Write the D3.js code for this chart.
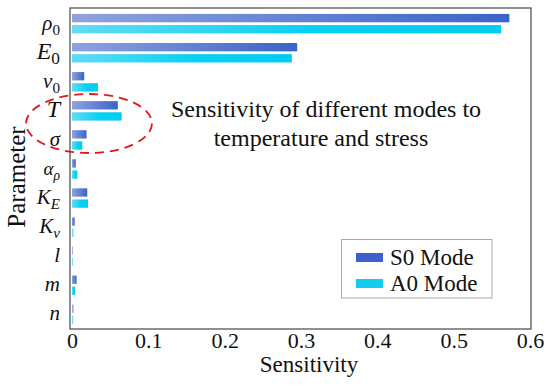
<!DOCTYPE html>
<html><head><meta charset="utf-8">
<script src="https://cdn.jsdelivr.net/npm/d3@7"></script>
<style>body{margin:0;background:#fff}svg{display:block}text{font-family:"Liberation Serif","Times New Roman",serif}</style>
</head><body>
<svg id="c" width="550" height="388"></svg>
<script>
const categories = ["rho0","E0","v0","T","sigma","alpha","KE","Kv","l","m","n"];
const s0Values = [0.573,0.295,0.016,0.060,0.019,0.005,0.020,0.0035,0.001,0.006,0.002];
const a0Values = [0.562,0.288,0.034,0.065,0.0135,0.007,0.021,0.002,0.001,0.004,0.0015];
const xTicks = [0,0.1,0.2,0.3,0.4,0.5,0.6];
const seriesNames = ["S0 Mode","A0 Mode"];

const svg = d3.select("#c");
const serif = '"Liberation Serif","Times New Roman",serif';
const fL=70, fR=531, fT=8, fB=329;
const x = d3.scaleLinear().domain([0,0.6]).range([72,530]);
const y = d3.scaleBand().domain(categories).range([fT+1,fB]).paddingInner(0.33).paddingOuter(0.17);
const sub = d3.scaleBand().domain([0,1]).range([0,y.bandwidth()]).paddingInner(0.25);

const defs = svg.append("defs");
const g1 = defs.append("linearGradient").attr("id","gS0");
g1.append("stop").attr("offset","0").attr("stop-color","#8fa3df");
g1.append("stop").attr("offset","1").attr("stop-color","#3a63c9");
const g2 = defs.append("linearGradient").attr("id","gA0");
g2.append("stop").attr("offset","0").attr("stop-color","#62dcf2");
g2.append("stop").attr("offset","0.55").attr("stop-color","#08d0f2");
g2.append("stop").attr("offset","1").attr("stop-color","#00ccf0");

const data = categories.map((c,i)=>({c, v:[s0Values[i],a0Values[i]]}));
const grp = svg.append("g");
data.forEach(d=>{
  d.v.forEach((v,k)=>{
    grp.append("rect")
      .attr("x",x(0)).attr("y",y(d.c)+sub(k))
      .attr("width",Math.max(0.8,x(v)-x(0))).attr("height",sub.bandwidth())
      .attr("fill",k===0?"url(#gS0)":"url(#gA0)")
      .attr("opacity", v<0.003?0.7:1);
  });
});

// frame
svg.append("rect").attr("x",fL).attr("y",fT).attr("width",fR-fL).attr("height",fB-fT)
  .attr("fill","none").attr("stroke","#555").attr("stroke-width",1.3);

// x axis
const xa = svg.append("g").attr("transform",`translate(0,${fB})`)
  .call(d3.axisBottom(x).tickValues(xTicks).tickSize(0).tickPadding(4).tickFormat(d=>d===0?"0":d3.format(".1f")(d)));
xa.attr("font-family",null).attr("font-size",null);
xa.select(".domain").remove();
xa.selectAll("text").style("font-family",serif).style("font-size","22px").attr("fill","#111").attr("dy","15px");

svg.append("text").attr("x",309).attr("y",372).attr("text-anchor","middle")
  .style("font-family",serif).style("font-size","23px").attr("fill","#111").text("Sensitivity");
svg.append("text").attr("transform","translate(25,177) rotate(-90)").attr("text-anchor","middle")
  .style("font-family",serif).style("font-size","25px").attr("fill","#111").text("Parameter");

// y labels
const labelDefs = {
  rho0:[["ρ",""],["0","sub"]], E0:[["E",""],["0","sub"]], v0:[["ν",""],["0","sub"]],
  T:[["T",""]], sigma:[["σ",""]], alpha:[["α",""],["ρ","sub"]], KE:[["K",""],["E","sub"]],
  Kv:[["K",""],["ν","sub"]], l:[["l",""]], m:[["m",""]], n:[["n",""]]
};
const sizes = {E0:24,T:24,rho0:21,v0:21,sigma:21,alpha:19,KE:21,Kv:21,l:21,m:21,n:21};
categories.forEach(c=>{
  const fs = sizes[c];
  const t = svg.append("text").attr("x",60).attr("y",y(c)+y.bandwidth()/2+6).attr("text-anchor","end")
    .style("font-family",serif).style("font-size",fs+"px").attr("fill","#111");
  labelDefs[c].forEach(([s,type])=>{
    const ts = t.append("tspan").text(s).style("font-style","italic");
    if(type==="sub"){
      const isNum = s==="0";
      ts.style("font-size",(fs*0.72)+"px").attr("dy",5).style("font-style", isNum?"normal":"italic");
    }
  });
});

// annotation
svg.append("text").attr("x",326).attr("y",117).attr("text-anchor","middle")
  .style("font-family",serif).style("font-size","24px").attr("fill","#111").text("Sensitivity of different modes to");
svg.append("text").attr("x",321).attr("y",146).attr("text-anchor","middle")
  .style("font-family",serif).style("font-size","24px").attr("fill","#111").text("temperature and stress");
svg.append("ellipse").attr("cx",89).attr("cy",123.5).attr("rx",63).attr("ry",29.5)
  .attr("fill","none").attr("stroke","#e0161b").attr("stroke-width",1.8).attr("stroke-dasharray","9,6");

// legend
const lg = svg.append("g");
lg.append("rect").attr("x",341.5).attr("y",239.5).attr("width",150.5).attr("height",58.5)
  .attr("fill","#fff").attr("stroke","#aaa").attr("stroke-width",1);
const lgColors = ["#3f5fcf","#12ccf0"];
seriesNames.forEach((n,i)=>{
  const yy = 253 + i*26;
  lg.append("rect").attr("x",356).attr("y",yy).attr("width",27).attr("height",9).attr("fill",lgColors[i]);
  lg.append("text").attr("x",390).attr("y",yy+12).style("font-family",serif).style("font-size","23px")
    .attr("fill","#111").text(n);
});
</script>
</body></html>
